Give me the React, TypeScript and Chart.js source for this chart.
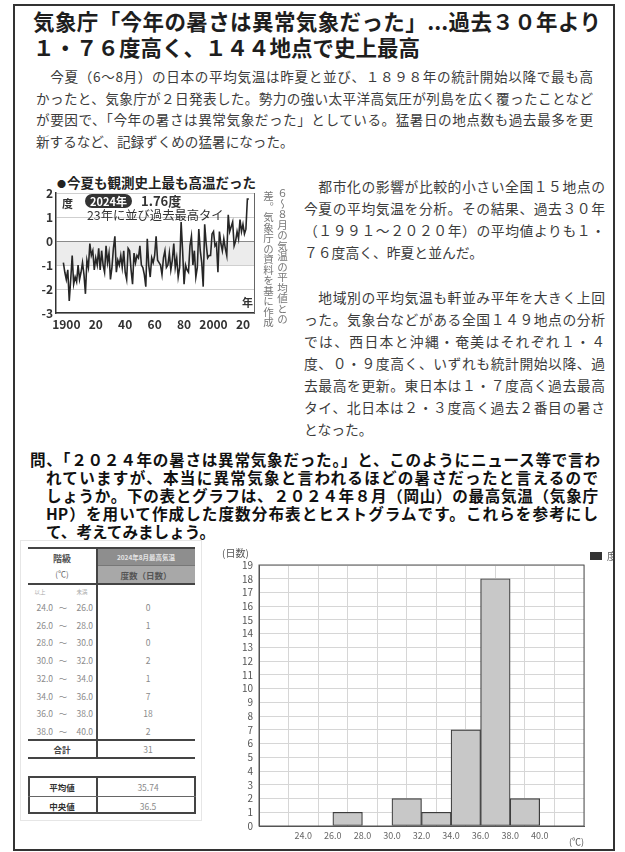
import React, { useEffect, useRef } from 'react';
import { Chart, registerables } from 'chart.js';
Chart.register(...registerables);

const FONT = '"Noto Sans CJK JP", "Noto Sans", sans-serif';
Chart.defaults.font.family = FONT;

// ---- small chart: summer (Jun-Aug) temperature anomaly, Japan ----
const anomalyStartYear = 1898;
const summerAnomaly = [
  -0.9, -1.3, -1.6, -1.2, -2.5, -1.6, -0.6, -1.8, -1.5, -1.7,
  -1.0, -1.6, -1.3, -0.9, -1.4, -2.2, -0.8, -1.1, -0.1, -0.6,
  -0.4, -1.2, -0.7, -1.0, -0.3, -1.2, -0.4, -1.0, -1.3, -0.2,
  -0.9, -0.5, -1.6, -1.1, -0.3, 0.2, -1.3, -0.8, -1.0, -0.6,
  -1.1, -0.4, -1.3, -1.6, -0.3, -0.4, -1.2, -1.8, -0.5, -0.9,
  -0.6, -0.7, -0.2, -1.0, -1.1, -1.4, -1.9, 0.1, -1.0, -1.5,
  -0.7, -0.9, -0.6, 0.2, -0.8, -0.9, -1.0, -1.4, -0.7, -0.4,
  -1.1, -1.0, -0.5, -1.2, -0.8, -0.1, -1.1, -0.7, -1.5, -1.1,
  0.8, -0.4, -1.8, -1.0, -1.2, -1.3, -0.2, 0.2, -1.0, -0.4,
  -1.5, -1.1, 0.5, -0.4, -0.9, -1.9, 0.7, -0.1, -0.7, -0.6,
  -0.6, 0.3, 0.4, -0.2, -0.1, -1.3, 0.4, -0.1, -0.4, 0.1,
  -0.3, -0.6, 1.1, 0.4, 0.6, 0.8, -0.2, 0.0, 0.4, 0.1,
  0.9, 0.4, 0.7, 0.3, 0.5, 1.76, 1.76,
];
const anomalyTickYears = [1900, 1920, 1940, 1960, 1980, 2000, 2020];
const anomalyTickLabels = ['1900', '20', '40', '60', '80', '2000', '20'];

// ---- histogram: Okayama, Aug 2024 daily max temperature ----
const binLower = [24, 26, 28, 30, 32, 34, 36, 38];
const binUpper = [26, 28, 30, 32, 34, 36, 38, 40];
const binCounts = [0, 1, 0, 2, 1, 7, 18, 2];
const histEdges = [24, 26, 28, 30, 32, 34, 36, 38, 40];
const histEdgeLabels = ['24.0', '26.0', '28.0', '30.0', '32.0', '34.0', '36.0', '38.0', '40.0'];
const binLowerLabels = ['24.0', '26.0', '28.0', '30.0', '32.0', '34.0', '36.0', '38.0'];
const binUpperLabels = ['26.0', '28.0', '30.0', '32.0', '34.0', '36.0', '38.0', '40.0'];
const totalDays = '31';
const meanValue = '35.74';
const medianValue = '36.5';

const titleLines = ['気象庁「今年の暑さは異常気象だった」...過去３０年より', '１・７６度高く、１４４地点で史上最高'];
const leadLines = [
  '　今夏（6～8月）の日本の平均気温は昨夏と並び、１８９８年の統計開始以降で最も高',
  'かったと、気象庁が２日発表した。勢力の強い太平洋高気圧が列島を広く覆ったことなど',
  'が要因で、「今年の暑さは異常気象だった」としている。猛暑日の地点数も過去最多を更',
  '新するなど、記録ずくめの猛暑になった。',
];
const sideLines = [
  '　都市化の影響が比較的小さい全国１５地点の',
  '今夏の平均気温を分析。その結果、過去３０年',
  '（１９９１～２０２０年）の平均値よりも１・',
  '７６度高く、昨夏と並んだ。',
  '',
  '　地域別の平均気温も軒並み平年を大きく上回',
  'った。気象台などがある全国１４９地点の分析',
  'では、西日本と沖縄・奄美はそれぞれ１・４',
  '度、０・９度高く、いずれも統計開始以降、過',
  '去最高を更新。東日本は１・７度高く過去最高',
  'タイ、北日本は２・３度高く過去２番目の暑さ',
  'となった。',
];
const questionLines = [
  '問、「２０２４年の暑さは異常気象だった。」と、このようにニュース等で言わ',
  'れていますが、本当に異常気象と言われるほどの暑さだったと言えるので',
  'しょうか。下の表とグラフは、２０２４年８月（岡山）の最高気温（気象庁',
  'HP）を用いて作成した度数分布表とヒストグラムです。これらを参考にし',
  'て、考えてみましょう。',
];

function Txt(props: any) {
  const { x, y, size, children, weight = 400, color = '#333', width, justify = false, lh, style, center = false } = props;
  const h = lh ?? Math.round(size * 1.4);
  return (
    <div
      style={{
        position: 'absolute',
        left: center ? x - (width ?? 100) / 2 : x,
        top: y - h / 2,
        fontSize: size,
        lineHeight: h + 'px',
        height: h,
        fontWeight: weight,
        color,
        whiteSpace: justify ? 'normal' : 'nowrap',
        width: center ? width ?? 100 : width,
        textAlign: justify ? 'justify' : center ? 'center' : 'left',
        textAlignLast: justify ? 'justify' : center ? 'center' : 'auto',
        ...style,
      }}
    >
      {children}
    </div>
  );
}

function HLine({ x1, x2, y, w = 1, color = '#444' }: any) {
  return <div style={{ position: 'absolute', left: x1, top: y - w / 2, width: x2 - x1, height: w, background: color }} />;
}
function VLine({ x, y1, y2, w = 1, color = '#444' }: any) {
  return <div style={{ position: 'absolute', left: x - w / 2, top: y1, width: w, height: y2 - y1, background: color }} />;
}

const bandPlugin = {
  id: 'band',
  beforeDraw(chart: any) {
    const { ctx, chartArea: a, scales } = chart;
    const y0 = scales.y.getPixelForValue(0);
    const y1 = scales.y.getPixelForValue(-1);
    ctx.save();
    ctx.fillStyle = '#ececec';
    ctx.fillRect(a.left, y0, a.right - a.left, y1 - y0);
    ctx.restore();
  },
};

const framePlugin = {
  id: 'frame',
  afterDatasetsDraw(chart: any) {
    const { ctx, chartArea: a } = chart;
    ctx.save();
    ctx.strokeStyle = '#555';
    ctx.lineWidth = 1;
    ctx.strokeRect(a.left, a.top, a.right - a.left, a.bottom - a.top);
    ctx.restore();
  },
};

function AnomalyChart() {
  const ref = useRef<HTMLCanvasElement>(null);
  useEffect(() => {
    const chart = new Chart(ref.current!, {
      type: 'line',
      data: {
        datasets: [
          {
            data: summerAnomaly.map((v, i) => ({ x: anomalyStartYear + i, y: v })),
            borderColor: '#262626',
            borderWidth: 1.6,
            pointRadius: 0,
            tension: 0,
          },
        ],
      },
      options: {
        animation: false,
        responsive: false,
        layout: { padding: { top: 10, right: 4, left: 0, bottom: 0 } },
        plugins: { legend: { display: false }, tooltip: { enabled: false } },
        scales: {
          x: {
            type: 'linear',
            min: 1893,
            max: 2027.5,
            afterBuildTicks: (s: any) => {
              s.ticks = anomalyTickYears.map((v) => ({ value: v }));
            },
            ticks: {
              callback: (v: any) => {
                const i = anomalyTickYears.indexOf(Number(v));
                return i >= 0 ? anomalyTickLabels[i] : '';
              },
              font: { size: 12, weight: 'bold' },
              color: '#333',
              padding: 4,
              maxRotation: 0,
              autoSkip: false,
            },
            grid: { display: true, color: 'rgba(0,0,0,0)', drawTicks: false },
            border: { color: '#333', width: 1.5 },
            afterFit: (s: any) => {
              s.height = 18;
            },
          },
          y: {
            min: -3,
            max: 2,
            ticks: { stepSize: 1, font: { size: 12, weight: 'bold' }, color: '#333', padding: 3, autoSkip: false },
            grid: {
              color: (c: any) => (c.tick && c.tick.value === 0 ? '#8a8a8a' : '#cfcfcf'),
              drawTicks: false,
            },
            border: { color: '#333', width: 1.5 },
            afterFit: (s: any) => {
              s.width = 20;
            },
          },
          y2: {
            position: 'right',
            min: -3,
            max: 2,
            ticks: { display: false },
            grid: { display: true, color: 'rgba(0,0,0,0)', drawTicks: false },
            border: { color: '#666', width: 1 },
            afterFit: (s: any) => {
              s.width = 0;
            },
          },
        },
      } as any,
      plugins: [bandPlugin],
    });
    return () => chart.destroy();
  }, []);
  return (
    <canvas
      ref={ref}
      width={222}
      height={148}
      style={{ position: 'absolute', left: 36, top: 183, width: 222, height: 148 }}
    />
  );
}

function HistogramChart() {
  const ref = useRef<HTMLCanvasElement>(null);
  useEffect(() => {
    const chart = new Chart(ref.current!, {
      type: 'bar',
      data: {
        datasets: [
          {
            label: '度数',
            data: binLower.map((lo, i) => ({ x: (lo + binUpper[i]) / 2, y: binCounts[i] })),
            backgroundColor: '#c8c8c8',
            borderColor: '#3c3c3c',
            borderWidth: 1.2,
            borderSkipped: false,
            barPercentage: 1,
            categoryPercentage: 1,
          },
        ],
      },
      options: {
        animation: false,
        responsive: false,
        layout: { padding: 0 },
        plugins: {
          legend: {
            position: 'right',
            align: 'start',
            labels: {
              boxWidth: 12,
              boxHeight: 8,
              font: { size: 10 },
              color: '#555',
              padding: 6,
              generateLabels: (c: any) => {
                const items = (Chart.defaults.plugins.legend.labels as any).generateLabels(c);
                items.forEach((it: any) => {
                  it.fillStyle = '#333';
                  it.strokeStyle = '#333';
                  it.lineWidth = 0;
                });
                return items;
              },
            },
          },
          title: {
            display: true,
            text: '(日数)',
            align: 'start',
            font: { size: 10, weight: 'normal', lineHeight: 1.2 },
            color: '#555',
            padding: { top: 2, bottom: 6 },
          },
          tooltip: { enabled: false },
        },
        scales: {
          x: {
            type: 'linear',
            min: 22,
            max: 42,
            ticks: {
              stepSize: 2,
              callback: (v: any) => {
                const i = histEdges.indexOf(Number(v));
                return i >= 0 ? histEdgeLabels[i] : '';
              },
              font: { size: 9 },
              color: '#666',
              padding: 4,
              maxRotation: 0,
              autoSkip: false,
            },
            grid: { color: '#d6d6d6', drawTicks: false },
            border: { color: '#555' },
            title: { display: true, text: '(℃)', align: 'end', font: { size: 9 }, color: '#555', padding: 0 },
            afterFit: (s: any) => {
              s.height = 21;
            },
          },
          y: {
            min: 0,
            max: 19,
            ticks: { stepSize: 1, font: { size: 10 }, color: '#555', padding: 6, autoSkip: false },
            grid: { color: '#d6d6d6', drawTicks: false },
            border: { color: '#555' },
            afterFit: (s: any) => {
              s.width = 37;
            },
          },
        },
      } as any,
      plugins: [framePlugin],
    });
    return () => chart.destroy();
  }, []);
  return (
    <canvas
      ref={ref}
      width={415}
      height={302}
      style={{ position: 'absolute', left: 222, top: 545, width: 415, height: 302 }}
    />
  );
}

function FreqTable() {
  const rowY = (i: number) => 607 + i * 17.7;
  const body = '#8a8a8a';
  return (
    <>
      <div style={{ position: 'absolute', left: 20, top: 540, width: 182, height: 281, border: '1px solid #e6e6e6', boxSizing: 'border-box' }} />
      <div style={{ position: 'absolute', left: 98, top: 549, width: 97, height: 16, background: '#8e8e8e' }} />
      <div style={{ position: 'absolute', left: 98, top: 566, width: 97, height: 17, background: '#a8a8a8' }} />
      <HLine x1={28} x2={195} y={548} w={2} />
      <HLine x1={98} x2={195} y={565.5} w={1} color="#777" />
      <HLine x1={28} x2={195} y={584} w={2} />
      <HLine x1={28} x2={195} y={740} w={1.5} />
      <HLine x1={28} x2={195} y={758} w={2} />
      <VLine x={97} y1={548} y2={758} w={1.5} />
      <Txt x={62} y={558} size={9} weight={700} color="#555" center width={60}>階級</Txt>
      <Txt x={62} y={573} size={8} color="#666" center width={60}>(℃)</Txt>
      <Txt x={146} y={557} size={6.5} weight={700} color="#e4e4e4" center width={96}>2024年8月最高気温</Txt>
      <Txt x={146} y={575} size={8.5} weight={700} color="#555" center width={96}>度数（日数）</Txt>
      <Txt x={40} y={592} size={5.5} color="#aaa" center width={20}>以上</Txt>
      <Txt x={82} y={592} size={5.5} color="#aaa" center width={20}>未満</Txt>
      {binLowerLabels.map((lo, i) => (
        <React.Fragment key={lo}>
          <Txt x={32} y={rowY(i)} size={8.5} color={body} style={{ width: 21, textAlign: 'right' }}>{lo}</Txt>
          <Txt x={63} y={rowY(i)} size={8.5} color={body} center width={14}>～</Txt>
          <Txt x={72} y={rowY(i)} size={8.5} color={body} style={{ width: 21, textAlign: 'right' }}>{binUpperLabels[i]}</Txt>
          <Txt x={148} y={rowY(i)} size={8.5} color={body} center width={40}>{String(binCounts[i])}</Txt>
        </React.Fragment>
      ))}
      <Txt x={62} y={749} size={8.5} weight={700} color="#444" center width={60}>合計</Txt>
      <Txt x={148} y={749} size={8.5} color={body} center width={40}>{totalDays}</Txt>

      <div style={{ position: 'absolute', left: 28, top: 776, width: 168, height: 38, border: '2px solid #444', boxSizing: 'border-box' }} />
      <VLine x={97} y1={776} y2={814} w={1.5} />
      <HLine x1={28} x2={196} y={796} w={1} color="#666" />
      <Txt x={62} y={787} size={8.5} weight={700} color="#333" center width={60}>平均値</Txt>
      <Txt x={148} y={787} size={8.5} color={body} center width={50}>{meanValue}</Txt>
      <Txt x={62} y={806} size={8.5} weight={700} color="#333" center width={60}>中央値</Txt>
      <Txt x={148} y={806} size={8.5} color={body} center width={50}>{medianValue}</Txt>
    </>
  );
}

export default function App() {
  return (
    <div style={{ position: 'absolute', left: 0, top: 0, width: 625, height: 852, background: '#fff', fontFamily: FONT, overflow: 'hidden' }}>
      <div style={{ position: 'absolute', left: 13, top: 4, width: 602, height: 847, border: '2px solid #333', boxSizing: 'border-box', overflow: 'hidden' }}>
        <div style={{ position: 'absolute', left: -15, top: -6, width: 625, height: 852 }}>
          {/* headline */}
          <Txt x={33} y={21} size={21.5} weight={700} color="#1e1e1e" width={568} justify lh={26}>{titleLines[0]}</Txt>
          <Txt x={33} y={47} size={21.5} weight={700} color="#1e1e1e" lh={26}>{titleLines[1]}</Txt>
          {leadLines.map((t, i) => (
            <Txt key={i} x={36} y={76 + i * 21.7} size={13.6} color="#3c3c3c" width={557} justify={i < 3} lh={20}>{t}</Txt>
          ))}

          {/* small chart */}
          <Txt x={57} y={182} size={13.5} weight={700} color="#222" lh={18}>
            <span style={{ fontSize: 9, verticalAlign: 'middle', marginRight: 1 }}>●</span>今夏も観測史上最も高温だった
          </Txt>
          <AnomalyChart />
          <Txt x={62} y={203} size={11} weight={700} color="#333" lh={14}>度</Txt>
          <div style={{ position: 'absolute', left: 85, top: 194, height: 14, lineHeight: '14px', padding: '0 5px', borderRadius: 7, background: '#333', color: '#fff', fontSize: 11, fontWeight: 700 }}>2024年</div>
          <Txt x={141} y={201} size={13} weight={700} color="#333" lh={16}>1.76度</Txt>
          <Txt x={87} y={215} size={12.3} color="#333" lh={15}>23年に並び過去最高タイ</Txt>
          <Txt x={242} y={302} size={11} weight={700} color="#333" lh={14}>年</Txt>
          <div style={{ position: 'absolute', left: 276, top: 188, writingMode: 'vertical-rl', textOrientation: 'upright', fontSize: 10.5, lineHeight: '12px', color: '#777', whiteSpace: 'nowrap' }}>６～８月の気温の平均値との</div>
          <div style={{ position: 'absolute', left: 262, top: 191, writingMode: 'vertical-rl', textOrientation: 'upright', fontSize: 10.5, lineHeight: '12px', color: '#777', whiteSpace: 'nowrap' }}>差。気象庁の資料を基に作成</div>

          {/* side column */}
          {sideLines.map((t, i) =>
            t ? (
              <Txt key={i} x={304} y={186 + i * 22.1} size={13.8} color="#3c3c3c" width={301} justify={!(i === 3 || i === 11)} lh={20}>{t}</Txt>
            ) : null
          )}

          {/* question */}
          {questionLines.map((t, i) => (
            <Txt
              key={i}
              x={i === 0 ? 30 : 46}
              y={459 + i * 18}
              size={15.6}
              weight={700}
              color="#111"
              width={i === 0 ? 570 : 552}
              justify={i < 4}
              lh={18}
            >
              {t}
            </Txt>
          ))}

          <FreqTable />
          <HistogramChart />
        </div>
      </div>
    </div>
  );
}
